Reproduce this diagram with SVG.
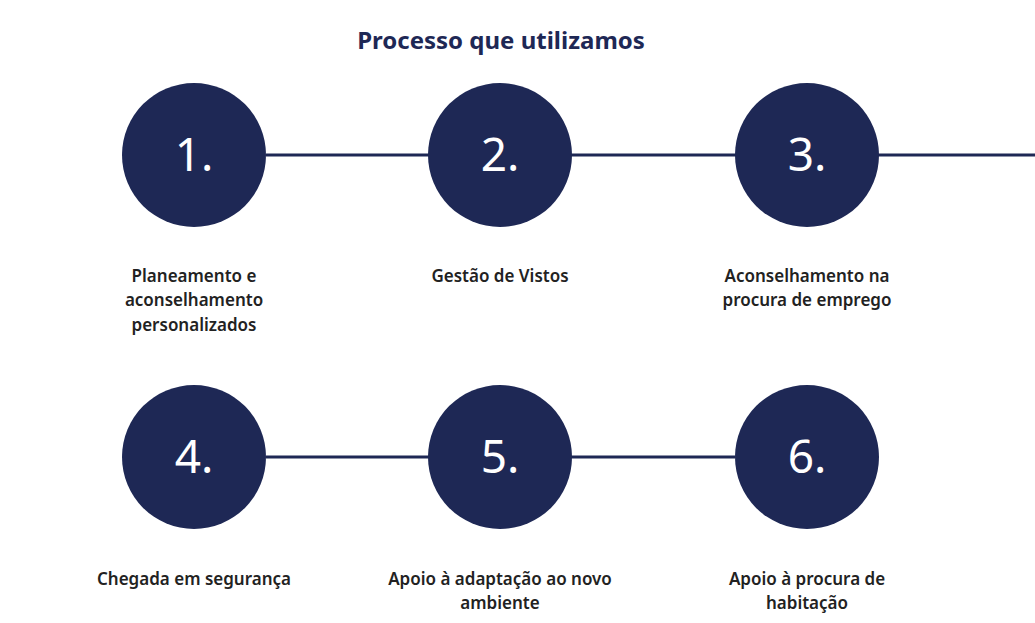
<svg xmlns="http://www.w3.org/2000/svg" width="1035" height="623" viewBox="0 0 1035 623">
<style>
.c{fill:#1e2855}
.n{fill:#fff;font-family:"Noto Sans",sans-serif;font-size:46px;text-anchor:middle}
.l{fill:#222;font-family:"Noto Sans",sans-serif;font-size:17px;font-weight:600;text-anchor:middle}
.t{fill:#1e2855;font-family:"Noto Sans",sans-serif;font-size:24px;font-weight:700;text-anchor:middle}
line{stroke:#1e2855;stroke-width:3}
</style>
<rect width="1035" height="623" fill="#fff"/>
<text class="t" x="501" y="49">Processo que utilizamos</text>
<g id="connectors">
<line x1="266" y1="155" x2="1035" y2="155"/>
<line x1="266" y1="457" x2="735" y2="457"/>
</g>
<g id="n1"><circle class="c" cx="194" cy="155" r="72"/><text class="n" x="194" y="171">1.</text>
<text class="l" x="194" y="282">Planeamento e</text><text class="l" x="194" y="306">aconselhamento</text><text class="l" x="194" y="331">personalizados</text></g>
<g id="n2"><circle class="c" cx="500" cy="155" r="72"/><text class="n" x="500" y="171">2.</text>
<text class="l" x="500" y="282">Gestão de Vistos</text></g>
<g id="n3"><circle class="c" cx="807" cy="155" r="72"/><text class="n" x="807" y="171">3.</text>
<text class="l" x="807" y="282">Aconselhamento na</text><text class="l" x="807" y="306">procura de emprego</text></g>
<g id="n4"><circle class="c" cx="194" cy="457" r="72"/><text class="n" x="194" y="473">4.</text>
<text class="l" x="194" y="585">Chegada em segurança</text></g>
<g id="n5"><circle class="c" cx="500" cy="457" r="72"/><text class="n" x="500" y="473">5.</text>
<text class="l" x="500" y="585">Apoio à adaptação ao novo</text><text class="l" x="500" y="609">ambiente</text></g>
<g id="n6"><circle class="c" cx="807" cy="457" r="72"/><text class="n" x="807" y="473">6.</text>
<text class="l" x="807" y="585">Apoio à procura de</text><text class="l" x="807" y="609">habitação</text></g>
</svg>
